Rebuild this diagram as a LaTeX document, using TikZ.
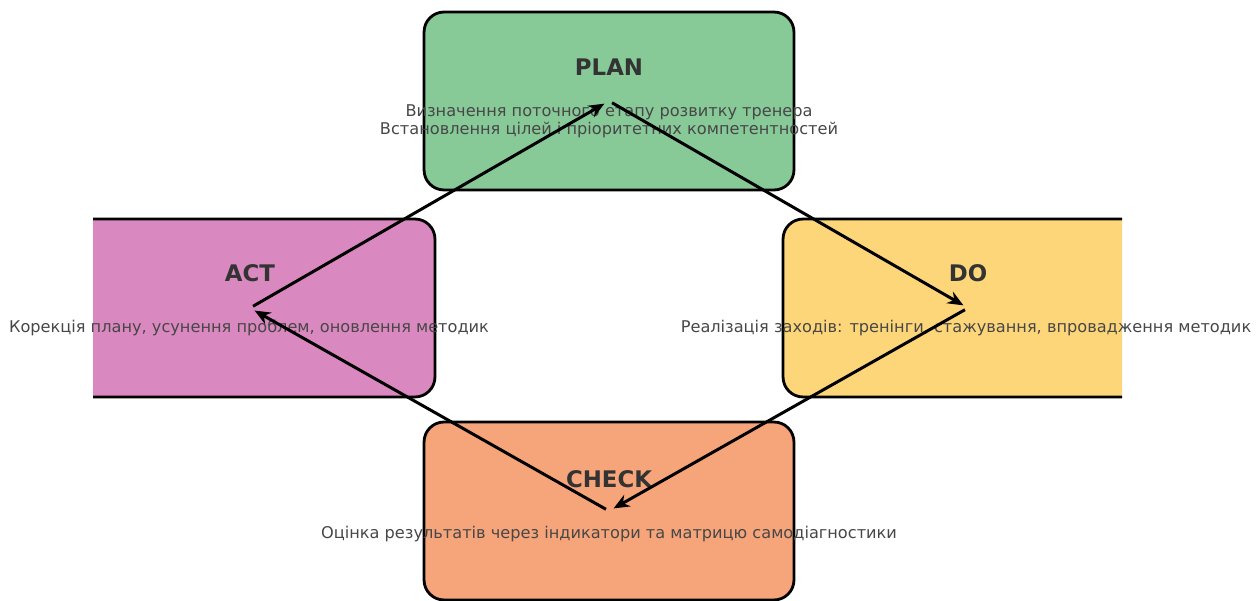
\documentclass[tikz,border=0pt]{standalone}
\usepackage{fontspec}
\setmainfont{DejaVu Sans}
\usetikzlibrary{arrows.meta}

\definecolor{plancol}{HTML}{88C998}
\definecolor{docol}{HTML}{FDD67A}
\definecolor{checkcol}{HTML}{F6A47A}
\definecolor{actcol}{HTML}{DA88C0}

\tikzset{
	stage/.style={draw=black, line width=1.6pt, rounded corners=0.4cm,
		minimum width=7.4cm, minimum height=3.56cm, inner sep=0pt},
	stagetitle/.style={font=\fontsize{13}{15}\selectfont\bfseries, text=black!80},
	stagetext/.style={font=\fontsize{9.2}{10.3}\selectfont, text=black!72, align=center},
	cyclearrow/.style={-{Stealth[length=9pt, width=7.5pt]}, line width=1.7pt,
		shorten >=3pt, shorten <=2pt}
}

\begin{document}
\begin{tikzpicture}[x=0.02cm, y=-0.02cm]
				\useasboundingbox (0, 0) rectangle (1258, 601);
				% Stage boxes (side boxes cut at the plot edge):
				\begin{scope}
					\clip (93, 0) rectangle (1122, 601);
					\node[stage, fill=plancol] (plan) at (609, 101){};
					\node[stage, fill=docol] (do) at (968, 308){};
					\node[stage, fill=checkcol] (check) at (609, 511){};
					\node[stage, fill=actcol] (act) at (250, 308){};
				\end{scope}
				% Titles and texts:
				\node[stagetitle] (plantitle) at (609, 67){PLAN};
				\node[stagetext] (plantext) at (609, 121){Визначення поточного етапу розвитку тренера\\Встановлення цілей і пріоритетних компетентностей};
				\node[stagetitle] (dotitle) at (968, 273){DO};
				\node[stagetext] (dotext) at (966, 328){Реалізація заходів: тренінги, стажування, впровадження методик};
				\node[stagetitle] (checktitle) at (609, 479){CHECK};
				\node[stagetext] (checktext) at (609, 534){Оцінка результатів через індикатори та матрицю самодіагностики};
				\node[stagetitle] (acttitle) at (250, 273){ACT};
				\node[stagetext] (acttext) at (249, 328){Корекція плану, усунення проблем, оновлення методик};
				% Cycle arrows:
				\draw[cyclearrow] (plan.center) -- (do.center);
				\draw[cyclearrow] (do.center) -- (check.center);
				\draw[cyclearrow] (check.center) -- (act.center);
				\draw[cyclearrow] (act.center) -- (plan.center);
			\end{tikzpicture}
\end{document}
